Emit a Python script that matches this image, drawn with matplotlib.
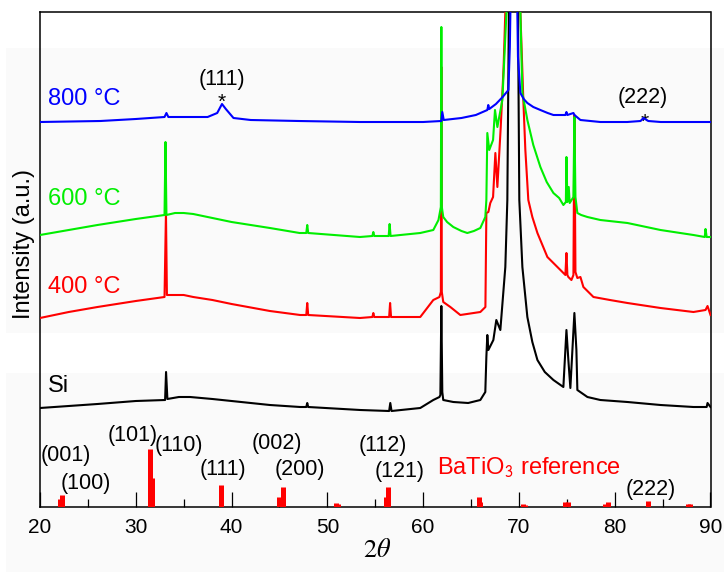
import matplotlib
matplotlib.use('Agg')
import matplotlib.pyplot as plt
from matplotlib.patches import Rectangle

plt.rcParams['font.family'] = ['Liberation Sans', 'DejaVu Sans']
plt.rcParams['mathtext.fontset'] = 'stix'

# XRD patterns, 2theta (deg) vs intensity (a.u., offset stacked)
two_theta_si = [20, 23, 26, 30, 33.06, 33.16, 33.3, 34.5, 35.67, 38, 40, 44, 47.16, 47.8, 47.9, 48.0,
                53.43, 56.45, 56.57, 56.7, 59.7, 61.06, 61.7, 61.8, 61.9, 62.0, 62.1, 63.15, 64.7,
                65.97, 66.49, 66.6, 66.7, 66.81, 67.33, 67.64, 68.06, 68.58, 68.79, 68.95, 69.37,
                69.9, 70.04, 70.36, 70.88, 71.4, 71.93, 72.7, 73.6, 74.64, 74.96, 75.16, 75.37,
                75.79, 76.0, 76.1, 77.15, 78.5, 81.33, 84.78, 88.22, 89.6, 89.69, 90]
int_si = [99, 101, 103, 106, 107, 135, 108, 110, 110, 108, 106, 102, 100, 100, 104, 100,
          97, 96, 104, 96, 99, 107, 110, 112, 201, 115, 107, 105, 104,
          107, 115, 150, 172, 157, 167, 187, 177, 240, 307, 495, 900,
          495, 307, 240, 190, 165, 147, 135, 127, 120, 177, 147, 119,
          194, 157, 117, 110, 107, 105, 102, 100, 100, 104, 100]

two_theta_400 = [20, 23, 26, 30, 33.0, 33.15, 33.25, 34.1, 35, 36, 38, 40, 44, 47.16, 47.8, 47.9, 48.0,
                 53.4, 54.7, 54.8, 54.9, 56.45, 56.55, 56.65, 59.7, 61.06, 61.7, 61.85, 61.9,
                 61.95, 62.1, 62.84, 63.88, 65.97, 66.5, 66.6, 66.81, 67.01, 67.3, 67.54, 67.75,
                 68.1, 68.4, 68.58, 69.4, 70.15, 70.46, 70.67, 70.98, 71.4, 71.93, 72.97, 74.33,
                 74.85, 74.96, 75.06, 75.16, 75.48, 75.69, 75.79, 75.9, 76.1, 76.42, 76.73, 77.78,
                 79.5, 81.33, 84.78, 88.22, 89.48, 89.69, 90]
int_400 = [189, 195, 200, 206, 210, 295, 212, 212, 212, 210, 207, 203, 196, 192, 192, 204, 192,
           189, 190, 194, 190, 190, 204, 190, 190, 207, 210, 215, 440,
           215, 205, 200, 192, 195, 200, 294, 295, 304, 310, 354, 320,
           380, 440, 495, 900, 495, 407, 357, 307, 290, 274, 250, 237,
           232, 254, 232, 230, 227, 232, 392, 235, 229, 230, 220, 210,
           207, 204, 199, 195, 197, 201, 192]

two_theta_600 = [20, 23, 26, 30, 33.0, 33.1, 33.2, 34.1, 35, 36, 38, 40, 44, 47.1, 47.8, 47.9, 48.0,
                 53.4, 54.7, 54.8, 54.9, 56.4, 56.5, 56.6, 59.7, 61.06, 61.6, 61.85,
                 61.9, 61.95, 62.1, 62.5, 63.15, 64.0, 64.61, 65.3, 65.97, 66.49, 66.6, 66.7, 66.9,
                 67.3, 67.5, 67.75, 68.27, 68.7, 69.4, 70.15, 70.36, 70.88, 71.5, 72.24, 72.9,
                 73.6, 74.2, 74.64, 74.9, 74.96, 75.06, 75.2, 75.3, 75.69, 75.79, 75.9, 76.1,
                 76.5, 77.15, 78.5, 81.33, 84.78, 88.22, 89.4, 89.48, 89.6, 90]
int_600 = [272, 277, 282, 288, 292, 365, 292, 294, 294, 293, 289, 285, 279, 274, 274, 282, 274,
           270, 271, 275, 271, 271, 283, 271, 274, 277, 287, 300,
           480, 300, 290, 285, 280, 276, 274, 276, 279, 290, 307, 374, 357,
           367, 397, 380, 407, 495, 900, 495, 414, 387, 362, 340, 325,
           314, 309, 302, 305, 350, 305, 320, 304, 310, 390, 310, 294,
           292, 290, 287, 284, 277, 272, 270, 278, 270, 270]

two_theta_800 = [20, 26.3, 30, 33.0, 33.2, 33.4, 37.5, 38.5, 39.0, 39.4, 40.2, 42, 47, 53.4,
                 60, 61.9, 62.0, 62.15, 64, 65.5, 66.7, 66.8, 66.9, 67.6, 68.3, 68.9, 69.05, 69.15,
                 69.45, 69.8, 69.9, 70.15, 70.5, 70.88, 71.5, 72.24, 73.0, 73.6, 74.85, 74.96,
                 75.06, 75.69, 75.8, 76.42, 78.5, 81.3, 82.7, 83.0, 83.5, 84.8, 90]
int_800 = [385, 386, 388, 390, 394, 390, 390, 394, 403, 398, 389, 387, 386, 385,
           385, 386, 395, 387, 389, 392, 397, 402, 398, 403, 410, 417, 460, 520,
           800, 520, 450, 414, 408, 404, 400, 397, 394, 392, 392, 395,
           392, 394, 392, 387, 385, 385, 386, 389, 386, 385, 385]

# BaTiO3 reference pattern (stick positions and heights)
ref_pos = [22.05, 22.25, 31.5, 31.65, 38.9, 45.0, 45.35, 50.9, 51.1, 56.1, 56.3,
           65.8, 65.95, 70.4, 70.6, 74.85, 75.1, 79.0, 79.3, 83.5, 87.65, 87.9]
ref_int = [8, 12, 58, 29, 22, 10, 20, 4, 3, 10, 20,
           10, 5, 3, 2, 5, 5, 3, 5, 6, 3, 3]

ref_labels = ['(001)', '(100)', '(101)', '(110)', '(111)', '(002)', '(200)',
              '(112)', '(121)', '(222)']
ref_label_x = [22.72, 24.8, 29.7, 34.5, 39.1, 44.76, 47.16, 55.8, 57.5, 83.8]
ref_label_y = [51, 24, 72, 62, 37, 64, 37, 62, 35, 18]

samples = ['Si', '400 °C', '600 °C', '800 °C']
sample_colors = ['black', '#ff0000', '#00ee00', '#0000ff']
sample_label_y = [121, 220, 308, 408]

fig = plt.figure(figsize=(7.24, 5.72), dpi=100)
# faint grey backdrop bands as in the original image
fig.patches.append(Rectangle((6/724, 0), 1, 1-48/572, transform=fig.transFigure,
                             facecolor='#fafafa', edgecolor='none', zorder=-10))
fig.patches.append(Rectangle((6/724, 1-373/572), 1, 40/572, transform=fig.transFigure,
                             facecolor='white', edgecolor='none', zorder=-9))

ax = fig.add_axes([40/724, 1-507/572, 670.5/724, 495/572])
ax.set_facecolor('none')

curves = [(two_theta_si, int_si), (two_theta_400, int_400),
          (two_theta_600, int_600), (two_theta_800, int_800)]
for i, (x, y) in enumerate(curves):
    ax.plot(x, y, color=sample_colors[i], lw=1.5, zorder=2+i)
    ax.text(20.84, sample_label_y[i], samples[i], color=sample_colors[i],
            fontsize=17, ha='left', va='center')

ax.vlines(ref_pos, 0, ref_int, color='#ff0000', lw=3.6, zorder=6)
for lab, lx, ly in zip(ref_labels, ref_label_x, ref_label_y):
    ax.text(lx, ly, lab, fontsize=15.5, ha='center', va='center')
ax.text(61.48, 39, r'BaTiO$_\mathsf{3}$ reference', color='#ff0000', fontsize=17,
        ha='left', va='center')

# film peaks for 800 °C
ax.text(39.0, 427, '(111)', fontsize=15.5, ha='center', va='center')
ax.text(39.0, 399, '*', fontsize=15, ha='center', va='baseline')
ax.text(82.9, 410, '(222)', fontsize=15.5, ha='center', va='center')
ax.text(83.1, 379, '*', fontsize=15, ha='center', va='baseline')

ax.set_xlim(20, 90)
ax.set_ylim(0, 495)
ax.set_xticks(range(20, 91, 10))
ax.set_xticks(range(25, 90, 10), minor=True)
ax.set_yticks([])
ax.tick_params(axis='x', which='major', direction='in', length=11, width=0.9,
               labelsize=15, pad=8)
ax.tick_params(axis='x', which='minor', direction='in', length=6, width=0.9)
for s in ax.spines.values():
    s.set_linewidth(1.1)

fig.text(24/724, 1-244/572, 'Intensity (a.u.)', rotation=90, fontsize=17,
         ha='center', va='center')
fig.text(377/724, 1-550/572, r'$2\theta$', fontsize=19, ha='center', va='center')

fig.savefig('out.png', dpi=100)
